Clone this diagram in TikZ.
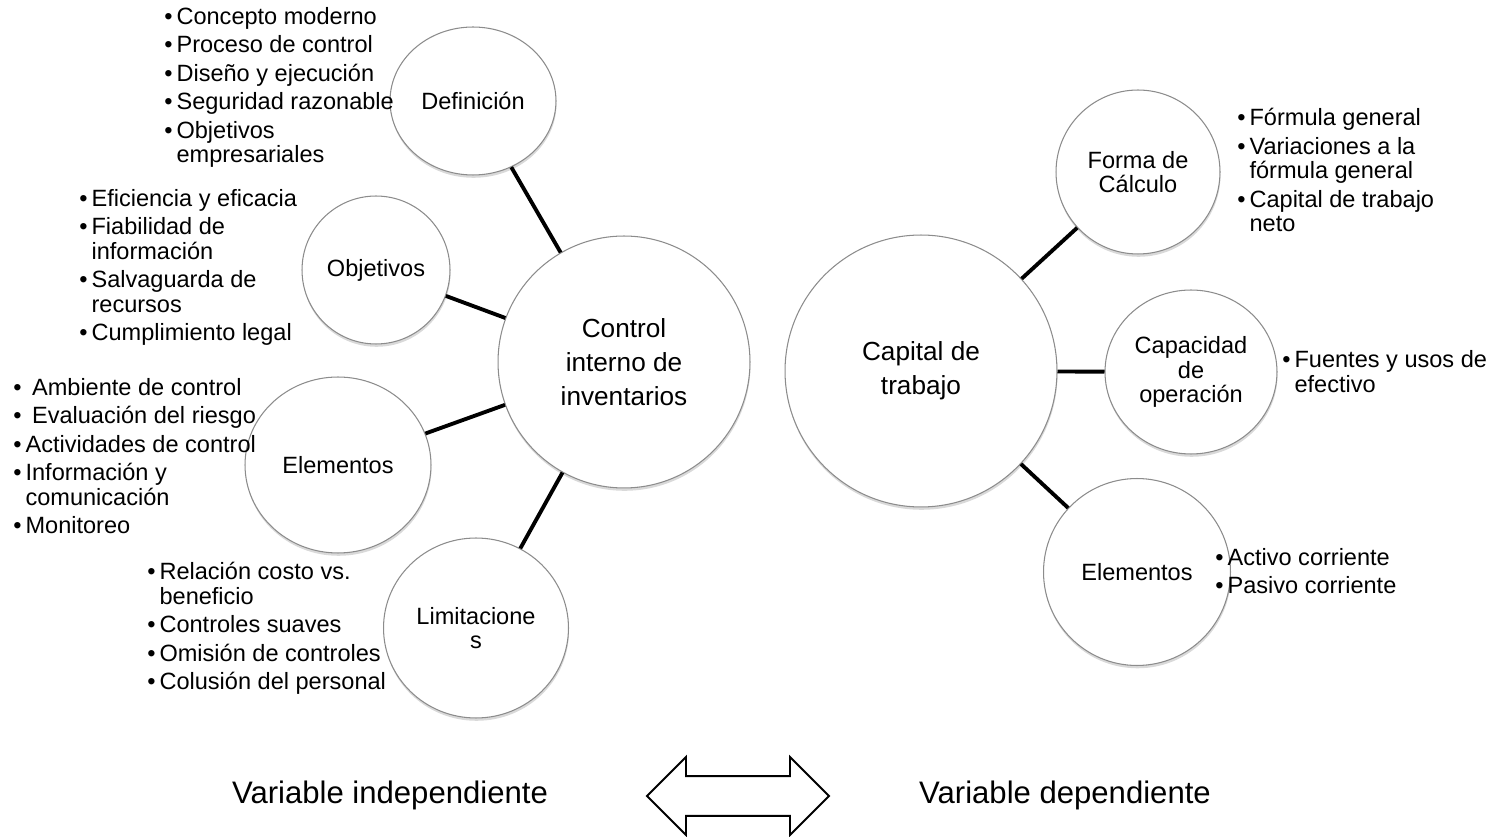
\documentclass[tikz,border=0pt]{standalone}
\usepackage{fontspec}
\setmainfont{Liberation Sans}
\usetikzlibrary{shapes,shadows}
\newcommand{\bul}{\makebox[0.52em][l]{\textbullet}}
\newcommand{\cont}{\hspace*{0.52em}}

\begin{document}
\begin{tikzpicture}[
    x=0.02cm, y=-0.02cm,
    text centered,
	bubble/.style={
	  ellipse,
	  inner sep=0pt,
	  align=center,
	  draw=black!45,
	  line width=0.6pt,
	  fill=white,
	  drop shadow={shadow xshift=0.3pt, shadow yshift=-1.6pt, opacity=0.3},
	  font=\fontsize{13.4}{13.8}\selectfont
	},
	bigbubble/.style={
	  bubble,
	  font=\fontsize{14.9}{19.3}\selectfont
	},
	items/.style={
	  anchor=north west,
	  inner sep=0pt,
	  align=left,
	  font=\fontsize{13.4}{14}\selectfont
	},
	caption/.style={font=\fontsize{17.7}{20}\selectfont},
	twoway/.style={
	  double arrow,
	  draw,
	  line width=1.1pt,
	  inner xsep=0pt,
	  inner ysep=0.38cm,
	  double arrow tip angle=90,
	  double arrow head extend=0.38cm,
	  minimum height=3.64cm
	},
 	line/.style={draw, line width=2.2pt}
	]
	\useasboundingbox (0,0) rectangle (1499,837);
	\node [bigbubble, minimum width=5.04cm, minimum height=5.04cm] at (624, 362) (ctrl) {Control\\interno de\\inventarios};
	\node [bubble, minimum width=3.32cm, minimum height=2.96cm] at (473, 101) (def) {Definición};
	\node [bubble, minimum width=2.96cm, minimum height=2.96cm] at (376, 270) (obj) {Objetivos};
	\node [bubble, minimum width=3.72cm, minimum height=3.52cm] at (338, 465) (eleml) {Elementos};
	\node [bubble, minimum width=3.7cm, minimum height=3.6cm] at (476, 628) (lim) {Limitacione\\s};
	\node [bigbubble, minimum width=5.44cm, minimum height=5.44cm] at (921, 371) (cap) {Capital de\\trabajo};
	\node [bubble, minimum width=3.28cm, minimum height=3.28cm] at (1138, 172) (forma) {Forma de\\Cálculo};
	\node [bubble, minimum width=3.44cm, minimum height=3.28cm] at (1191, 372) (capac) {Capacidad\\de\\operación};
	\node [bubble, minimum width=3.74cm, minimum height=3.74cm] at (1137, 572) (elemr) {Elementos};
	\path[line] (def) -- (ctrl);
	\path[line] (obj) -- (ctrl);
	\path[line] (eleml) -- (ctrl);
	\path[line] (lim) -- (ctrl);
	\path[line] (cap) -- (forma);
	\path[line] (cap) -- (capac);
	\path[line] (cap) -- (elemr);
	\node [items] at (164, 7) (defitems) {\bul Concepto moderno\\[2.2pt]
	  \bul Proceso de control\\[2.2pt]
	  \bul Diseño y ejecución\\[2.2pt]
	  \bul Seguridad razonable\\[2.2pt]
	  \bul Objetivos\\ \cont empresariales};
	\node [items] at (79, 189) (objitems) {\bul Eficiencia y eficacia\\[2.2pt]
	  \bul Fiabilidad de\\ \cont información\\[2.2pt]
	  \bul Salvaguarda de\\ \cont recursos\\[2.2pt]
	  \bul Cumplimiento legal};
	\node [items] at (13, 378) (elemlitems) {\bul\ Ambiente de control\\[2.2pt]
	  \bul\ Evaluación del riesgo\\[2.2pt]
	  \bul Actividades de control\\[2.2pt]
	  \bul Información y\\ \cont comunicación\\[2.2pt]
	  \bul Monitoreo};
	\node [items] at (147, 562) (limitems) {\bul Relación costo vs.\\ \cont beneficio\\[2.2pt]
	  \bul Controles suaves\\[2.2pt]
	  \bul Omisión de controles\\[2.2pt]
	  \bul Colusión del personal};
	\node [items] at (1237, 108) (formaitems) {\bul Fórmula general\\[2.2pt]
	  \bul Variaciones a la\\ \cont fórmula general\\[2.2pt]
	  \bul Capital de trabajo\\ \cont neto};
	\node [items] at (1282, 350) (capacitems) {\bul Fuentes y usos de\\ \cont efectivo};
	\node [items] at (1215, 548) (elemritems) {\bul Activo corriente\\[2.2pt]
	  \bul Pasivo corriente};
	\node [caption] at (390, 795) (indep) {Variable independiente};
	\node [twoway] at (738, 796) (link) {};
	\node [caption] at (1065, 795) (dep) {Variable dependiente};
  \end{tikzpicture}
\end{document}
